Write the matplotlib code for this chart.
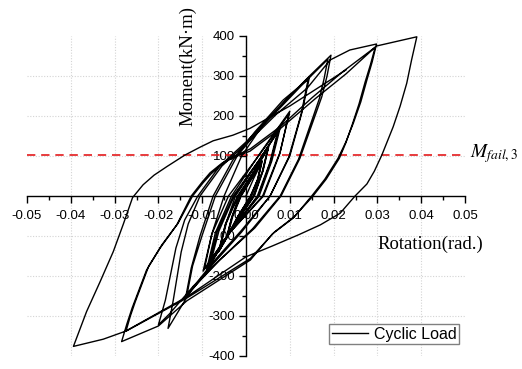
import numpy as np
import matplotlib
matplotlib.use("Agg")
import matplotlib.pyplot as plt
from matplotlib.ticker import MultipleLocator, FixedLocator, FixedFormatter

plt.rcParams['font.family'] = ['Liberation Sans', 'DejaVu Sans']
plt.rcParams['mathtext.fontset'] = 'stix'
plt.rcParams['axes.unicode_minus'] = False

# moment-rotation history, split by drift level of the loading protocol
rot_a = [0.0, 0.0018, 0.0035, 0.0026, 0.0010, -0.0018, -0.0042,
         -0.0030, -0.0011, 0.0014, 0.0036, 0.0027, 0.0011, -0.0019, -0.0044,
         -0.0032, -0.0012, 0.0014, 0.0037, 0.0028, 0.0012, -0.0020, -0.0045]
mom_a = [0, 45, 82, 40, 0, -50, -100,
         -50, 0, 45, 86, 42, 0, -52, -104,
         -52, 0, 46, 88, 44, 0, -54, -106]

rot_b = [-0.0033, -0.0016, 0.0019, 0.0050, 0.0037, 0.0016, -0.0026, -0.0060,
         -0.0045, -0.0018, 0.0020, 0.0051, 0.0038, 0.0018, -0.0027, -0.0062,
         -0.0047, -0.0019, 0.0021, 0.0052, 0.0039, 0.0019, -0.0028, -0.0063]
mom_b = [-55, 0, 62, 118, 60, 0, -70, -135,
         -68, 0, 64, 122, 62, 0, -72, -138,
         -70, 0, 65, 124, 63, 0, -74, -140]

rot_c = [-0.0047, -0.0024, 0.0028, 0.0072, 0.0054, 0.0026, -0.0036, -0.0082,
         -0.0062, -0.0027, 0.0029, 0.0075, 0.0056, 0.0028, -0.0038, -0.0086,
         -0.0066, -0.0029, 0.0030, 0.0078, 0.0059, 0.0030, -0.0040, -0.0090]
mom_c = [-72, 0, 85, 160, 82, 0, -90, -172,
         -88, 0, 88, 165, 85, 0, -92, -178,
         -90, 0, 90, 170, 88, 0, -95, -184]

rot_d = [-0.0070, -0.0033, 0.0034, 0.0100, 0.0078, 0.0038, -0.0042, -0.0098,
         -0.0078, -0.0040, 0.0032, 0.0098, 0.0077, 0.0040, -0.0040, -0.0095]
mom_d = [-92, 0, 110, 212, 110, 0, -98, -188,
         -95, 0, 105, 205, 105, 0, -95, -183]

rot_e = [-0.0078, -0.0050, -0.0010, 0.0040, 0.0095, 0.0145,
         0.0128, 0.0100, 0.0055, -0.0010, -0.0075, -0.0138,
         -0.0125, -0.0105, -0.0075, -0.0030, 0.0020, 0.0085, 0.0142,
         0.0126, 0.0098, 0.0055, -0.0012, -0.0075, -0.0135]
mom_e = [-95, 0, 100, 180, 245, 298,
         210, 100, 0, -90, -170, -255,
         -180, -100, 0, 90, 160, 240, 292,
         205, 98, 0, -88, -165, -248]

rot_f = [-0.0122, -0.0100, -0.0070, -0.0020, 0.0040, 0.0100, 0.0145, 0.0194,
         0.0185, 0.0173, 0.0146, 0.0123, 0.0080, 0.0020, -0.0060, -0.0120, -0.0175, -0.0200,
         -0.0184, -0.0160, -0.0140, -0.0110, -0.0060, 0.0000, 0.0060, 0.0130, 0.0187,
         0.0178, 0.0168, 0.0142, 0.0120, 0.0078, 0.0015, -0.0060, -0.0125, -0.0178]
mom_f = [-175, -98, 0, 100, 180, 250, 300, 352,
         300, 248, 165, 94, 0, -80, -160, -225, -295, -322,
         -260, -130, -60, 0, 75, 135, 200, 280, 342,
         292, 245, 162, 92, 0, -82, -160, -235, -331]

rot_g = [-0.0166, -0.0148, -0.0132, -0.0105, -0.0055, 0.0000, 0.0070, 0.0140, 0.0192, 0.0237, 0.0298,
         0.0288, 0.0276, 0.0262, 0.0245, 0.0228, 0.0210, 0.0180, 0.0150, 0.0108, 0.0060, 0.0010,
         -0.0135, -0.0200, -0.0284,
         -0.0272, -0.0260, -0.0227, -0.0196, -0.0158, -0.0125, -0.0100, -0.0082, -0.0055, -0.0029,
         0.0010, 0.0080, 0.0150, 0.0220, 0.0295,
         0.0284, 0.0272, 0.0258, 0.0243, 0.0228, 0.0213, 0.0183, 0.0153, 0.0110, 0.0065, 0.0010,
         -0.0135, -0.0274,
         -0.0264, -0.0253, -0.0222, -0.0192, -0.0155, -0.0122, -0.0098, -0.0080, -0.0055, -0.0030,
         0.0009, 0.0080, 0.0160, 0.0228, 0.0298]
mom_g = [-260, -140, -70, 0, 75, 130, 205, 270, 340, 365, 380,
         335, 290, 235, 182, 135, 94, 42, 0, -55, -95, -160,
         -262, -325, -364,
         -320, -280, -185, -130, -72, 0, 35, 58, 82, 98,
         118, 175, 245, 310, 372,
         328, 285, 230, 180, 133, 94, 42, 0, -52, -90, -156,
         -255, -338,
         -300, -265, -175, -122, -68, 0, 33, 55, 80, 96,
         112, 170, 245, 305, 375]

rot_h = [0.0390, 0.0378, 0.0367, 0.0352, 0.0336, 0.0322, 0.0310, 0.0293, 0.0276, 0.0249,
         0.0215, 0.0170, 0.0120, 0.0060, 0.0000, -0.0135, -0.0275, -0.0326, -0.0394,
         -0.0364, -0.0333, -0.0303, -0.0280, -0.0259, -0.0235, -0.0210, -0.0180, -0.0140,
         -0.0105, -0.0075, -0.0030, 0.0009, 0.0100, 0.0228]
mom_h = [398, 340, 282, 225, 173, 135, 102, 62, 30, 0,
         -43, -72, -97, -125, -152, -252, -338, -358, -376,
         -289, -214, -139, -70, -4, 28, 52, 74, 102,
         122, 138, 152, 169, 225, 315]

m_fail = 102

xticks = [-0.05, -0.04, -0.03, -0.02, -0.01, 0.0, 0.01, 0.02, 0.03, 0.04, 0.05]
xlabels = ['-0.05', '-0.04', '-0.03', '-0.02', '-0.01', '0.00', '0.01', '0.02', '0.03', '0.04', '0.05']
yticks = [-400, -300, -200, -100, 100, 200, 300, 400]
ylabels = ['-400', '-300', '-200', '-100', '100', '200', '300', '400']

rotation = np.concatenate([rot_a, rot_b, rot_c, rot_d, rot_e, rot_f, rot_g, rot_h])
moment = np.concatenate([mom_a, mom_b, mom_c, mom_d, mom_e, mom_f, mom_g, mom_h])

fig = plt.figure(figsize=(5.22, 3.69), dpi=100)
ax = fig.add_axes([27 / 522, 13 / 369, 438 / 522, 320 / 369])
ax.set_xlim(-0.05, 0.05)
ax.set_ylim(-400, 400)

# dotted grid at interior major positions
for xv in xticks[1:-1]:
    ax.axvline(xv, color='#d4d4d4', lw=0.8, ls=(0, (1, 1.5)), zorder=0)
for yv in [-300, -200, -100, 100, 200, 300]:
    ax.axhline(yv, color='#d4d4d4', lw=0.8, ls=(0, (1, 1.5)), zorder=0)

ax.plot(rotation, moment, color='black', lw=1.0, label='Cyclic Load', zorder=3)
ax.plot([-0.05, 0.05], [m_fail, m_fail], color='#e31a1c', lw=1.2, ls=(0, (5, 3.5)), zorder=2)

for side in ['top', 'right']:
    ax.spines[side].set_visible(False)
ax.spines['left'].set_position(('data', 0))
ax.spines['bottom'].set_position(('data', 0))
for side in ['left', 'bottom']:
    ax.spines[side].set_linewidth(1.0)
    ax.spines[side].set_zorder(4)

ax.xaxis.set_major_locator(FixedLocator(xticks))
ax.xaxis.set_major_formatter(FixedFormatter(xlabels))
ax.xaxis.set_minor_locator(MultipleLocator(0.005))
ax.yaxis.set_major_locator(FixedLocator(yticks))
ax.yaxis.set_major_formatter(FixedFormatter(ylabels))
ax.yaxis.set_minor_locator(MultipleLocator(50))
ax.tick_params(which='major', direction='out', length=5, width=1.0, labelsize=9.5)
ax.tick_params(which='minor', direction='out', length=3, width=1.0)
ax.tick_params(axis='x', pad=5)
ax.tick_params(axis='y', pad=3)

ax.text(-0.0133, 325, 'Moment(kN·m)', rotation=90, ha='center', va='center',
        family='Liberation Serif', fontsize=13.5)
ax.text(0.042, -122, 'Rotation(rad.)', ha='center', va='center',
        family='Liberation Serif', fontsize=13.5)
ax.text(0.0511, 97, r'$M_{\mathit{fail,3}}$', ha='left', va='baseline', fontsize=14,
        clip_on=False)

leg = ax.legend(loc='lower right', bbox_to_anchor=(459 / 522, 25 / 369),
                bbox_transform=fig.transFigure, borderaxespad=0, fancybox=False,
                framealpha=1, edgecolor='#808080', fontsize=11.5, handlelength=2.3,
                handletextpad=0.35, borderpad=0.15)
leg.get_frame().set_linewidth(1.0)

fig.savefig('out.png', dpi=100)
